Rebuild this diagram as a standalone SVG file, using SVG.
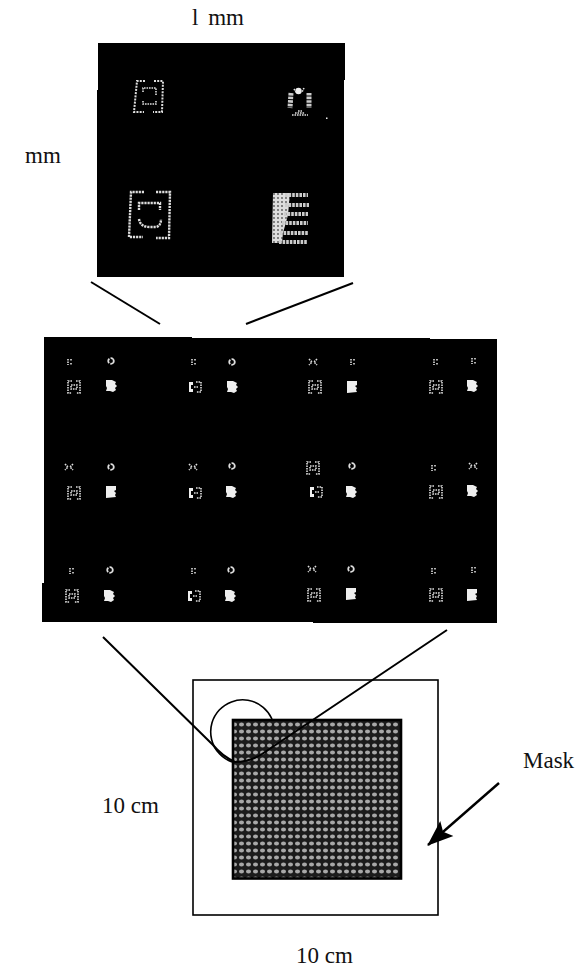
<svg xmlns="http://www.w3.org/2000/svg" xmlns:xlink="http://www.w3.org/1999/xlink" width="583" height="967" viewBox="0 0 583 967">
<style>
text{font-family:"Liberation Serif","Times New Roman",serif;font-size:23px;fill:#111}
.d{fill:none;stroke:#ddd;stroke-width:2;stroke-dasharray:2 1.2}
.e{fill:none;stroke:#ccc;stroke-width:4;stroke-dasharray:2.6 1}
.t{fill:none;stroke:#ddd;stroke-width:2.4;stroke-dasharray:2.2 .9}
.s{fill:none;stroke:#ddd;stroke-width:1.6;stroke-dasharray:1.6 .9}
.w{fill:#eee}
.c{fill:none;stroke:#000;stroke-width:2}
</style>
<defs>
<pattern id="dots" width="7" height="7" patternUnits="userSpaceOnUse">
<rect width="7" height="7" fill="#1c1c1c"/>
<ellipse cx="3.500" cy="3.500" rx="2.500" ry="2.100" fill="#a8a8a8"/>
</pattern>
<pattern id="blk" width="4" height="4" patternUnits="userSpaceOnUse">
<rect width="4" height="4" fill="#ddd"/>
<circle cx="2" cy="2" r=".9" fill="#555"/>
</pattern>
<marker id="ah" viewBox="0 0 26 24" refX="25" refY="12" markerWidth="26" markerHeight="24" markerUnits="userSpaceOnUse" orient="auto"><path d="M0 2L26 12L0 22L5 12Z" fill="#000"/></marker>
<g id="br"><path class="s" d="M-2 -6H-6V6H-2M2 -6H6V6H2"/><path class="s" d="M-3 -2H3V2H-3Z"/></g>
<g id="br2"><path d="M-6 -5H-2V-2H-4V2H-2V5H-6Z" class="w"/><path class="s" d="M1 -5H6V5H1"/><path class="s" d="M-1 0H3"/></g>
<path id="blob" d="M-5 -6H1L3 -5L5 -4L4 -2L6 0L4 2L5 4L2 6L-1 5L-5 5L-4 2L-5 0Z" class="w"/>
<path id="sq" d="M-5 -6H5V-2L3 -1L5 1L4 3L5 5L-5 6Z" class="w"/>
<path id="xx" class="s" d="M-4 -3L-1 0L-4 3M4 -3L1 0L4 3"/>
<circle id="ring" r="2.800" fill="none" stroke="#ddd" stroke-width="1.800" stroke-dasharray="5 1.200"/>
<path id="dd" class="s" d="M-1 -3V3M2 -3V-1M2 1V3"/>
</defs>
<g id="top-die">
<path d="M98 43H345V80H344V277H97V90H98Z" fill="#000"/>
<path class="d" d="M145 81H137L134 112H144M154 81H163L162 112H153"/>
<path class="s" d="M143 92V88H156V96M143 101V104H156V100"/>
<path class="e" d="M291 93L290 108M309 93L309 108" style="stroke-width:5"/>
<circle cx="298.500" cy="91" r="3.200" class="w"/>
<path class="s" d="M294 89L296 92M304 88L302 92"/>
<path class="s" d="M292 115H308M295 113H305M298 111H302"/>
<rect x="326" y="117.500" width="1.500" height="1.500" fill="#eee"/>
<path class="t" d="M144 192H131L129 237H143M156 192H170L169 238H156"/>
<path class="t" d="M139 210V203H160V210M139 219Q140 227 150 227H156Q161 226 161 219"/>
<path d="M273 193H290L288 215L283 233L282 243H272Z" fill="url(#blk)"/>
<path class="e" d="M285 195H308M285 205H309M284 214H308M282 223H308M280 233H308M279 242H307"/>
</g>
<g id="wafer">
<path d="M44 337H192V338H430V339H497V623H313V622H42V583H44Z" fill="#000"/>
<use xlink:href="#dd" x="69" y="362"/><use xlink:href="#ring" x="111" y="361"/><use xlink:href="#br" x="74" y="387"/><use xlink:href="#blob" x="111" y="386"/>
<use xlink:href="#dd" x="193" y="362"/><use xlink:href="#ring" x="232" y="362"/><use xlink:href="#br2" x="195" y="387"/><use xlink:href="#blob" x="232" y="387"/>
<use xlink:href="#xx" x="313" y="362"/><use xlink:href="#dd" x="352" y="362"/><use xlink:href="#br" x="315" y="387"/><use xlink:href="#sq" x="352" y="387"/>
<use xlink:href="#dd" x="435" y="362"/><use xlink:href="#dd" x="473" y="361"/><use xlink:href="#br" x="436" y="387"/><use xlink:href="#blob" x="472" y="386"/>
<use xlink:href="#xx" x="69" y="467"/><use xlink:href="#ring" x="111" y="467"/><use xlink:href="#br" x="74" y="493"/><use xlink:href="#sq" x="111" y="492"/>
<use xlink:href="#xx" x="193" y="467"/><use xlink:href="#ring" x="232" y="466"/><use xlink:href="#br2" x="195" y="493"/><use xlink:href="#blob" x="231" y="492"/>
<use xlink:href="#br" x="313" y="468"/><use xlink:href="#ring" x="352" y="466"/><use xlink:href="#br2" x="316" y="492"/><use xlink:href="#blob" x="351" y="492"/>
<use xlink:href="#dd" x="433" y="468"/><use xlink:href="#xx" x="473" y="466"/><use xlink:href="#br" x="436" y="492"/><use xlink:href="#blob" x="472" y="491"/>
<use xlink:href="#dd" x="71" y="571"/><use xlink:href="#ring" x="110" y="570"/><use xlink:href="#br" x="72" y="596"/><use xlink:href="#blob" x="109" y="596"/>
<use xlink:href="#dd" x="193" y="571"/><use xlink:href="#ring" x="231" y="570"/><use xlink:href="#br2" x="194" y="596"/><use xlink:href="#blob" x="230" y="596"/>
<use xlink:href="#xx" x="312" y="569"/><use xlink:href="#ring" x="351" y="569"/><use xlink:href="#br" x="314" y="595"/><use xlink:href="#sq" x="351" y="594"/>
<use xlink:href="#dd" x="433" y="571"/><use xlink:href="#dd" x="473" y="570"/><use xlink:href="#br" x="436" y="595"/><use xlink:href="#sq" x="472" y="595"/>
</g>
<g id="mask">
<rect x="193" y="680" width="245" height="235" fill="#fff" stroke="#000" stroke-width="1.6"/>
<path d="M272 719A32 32 0 1 0 232 762" fill="none" stroke="#000" stroke-width="1.6"/>
<rect x="233" y="720" width="168" height="158.500" fill="url(#dots)" stroke="#000" stroke-width="2.600"/>
</g>
<g id="connectors">
<path class="c" d="M91 282L160 324"/>
<path class="c" d="M353 283L246 324"/>
<path class="c" d="M103 637L213 745Q222 756 235 762"/>
<path class="c" d="M447 630L262 754Q250 762 235 762"/>
<path d="M499 783L428 845" stroke="#000" stroke-width="2.400" fill="none" marker-end="url(#ah)"/>
</g>
<g id="labels">
<text x="192" y="25" word-spacing="4">l mm</text>
<text x="25" y="163">mm</text>
<text x="102" y="813">10 cm</text>
<text x="523" y="768">Mask</text>
<text x="296" y="963">10 cm</text>
</g>
</svg>
